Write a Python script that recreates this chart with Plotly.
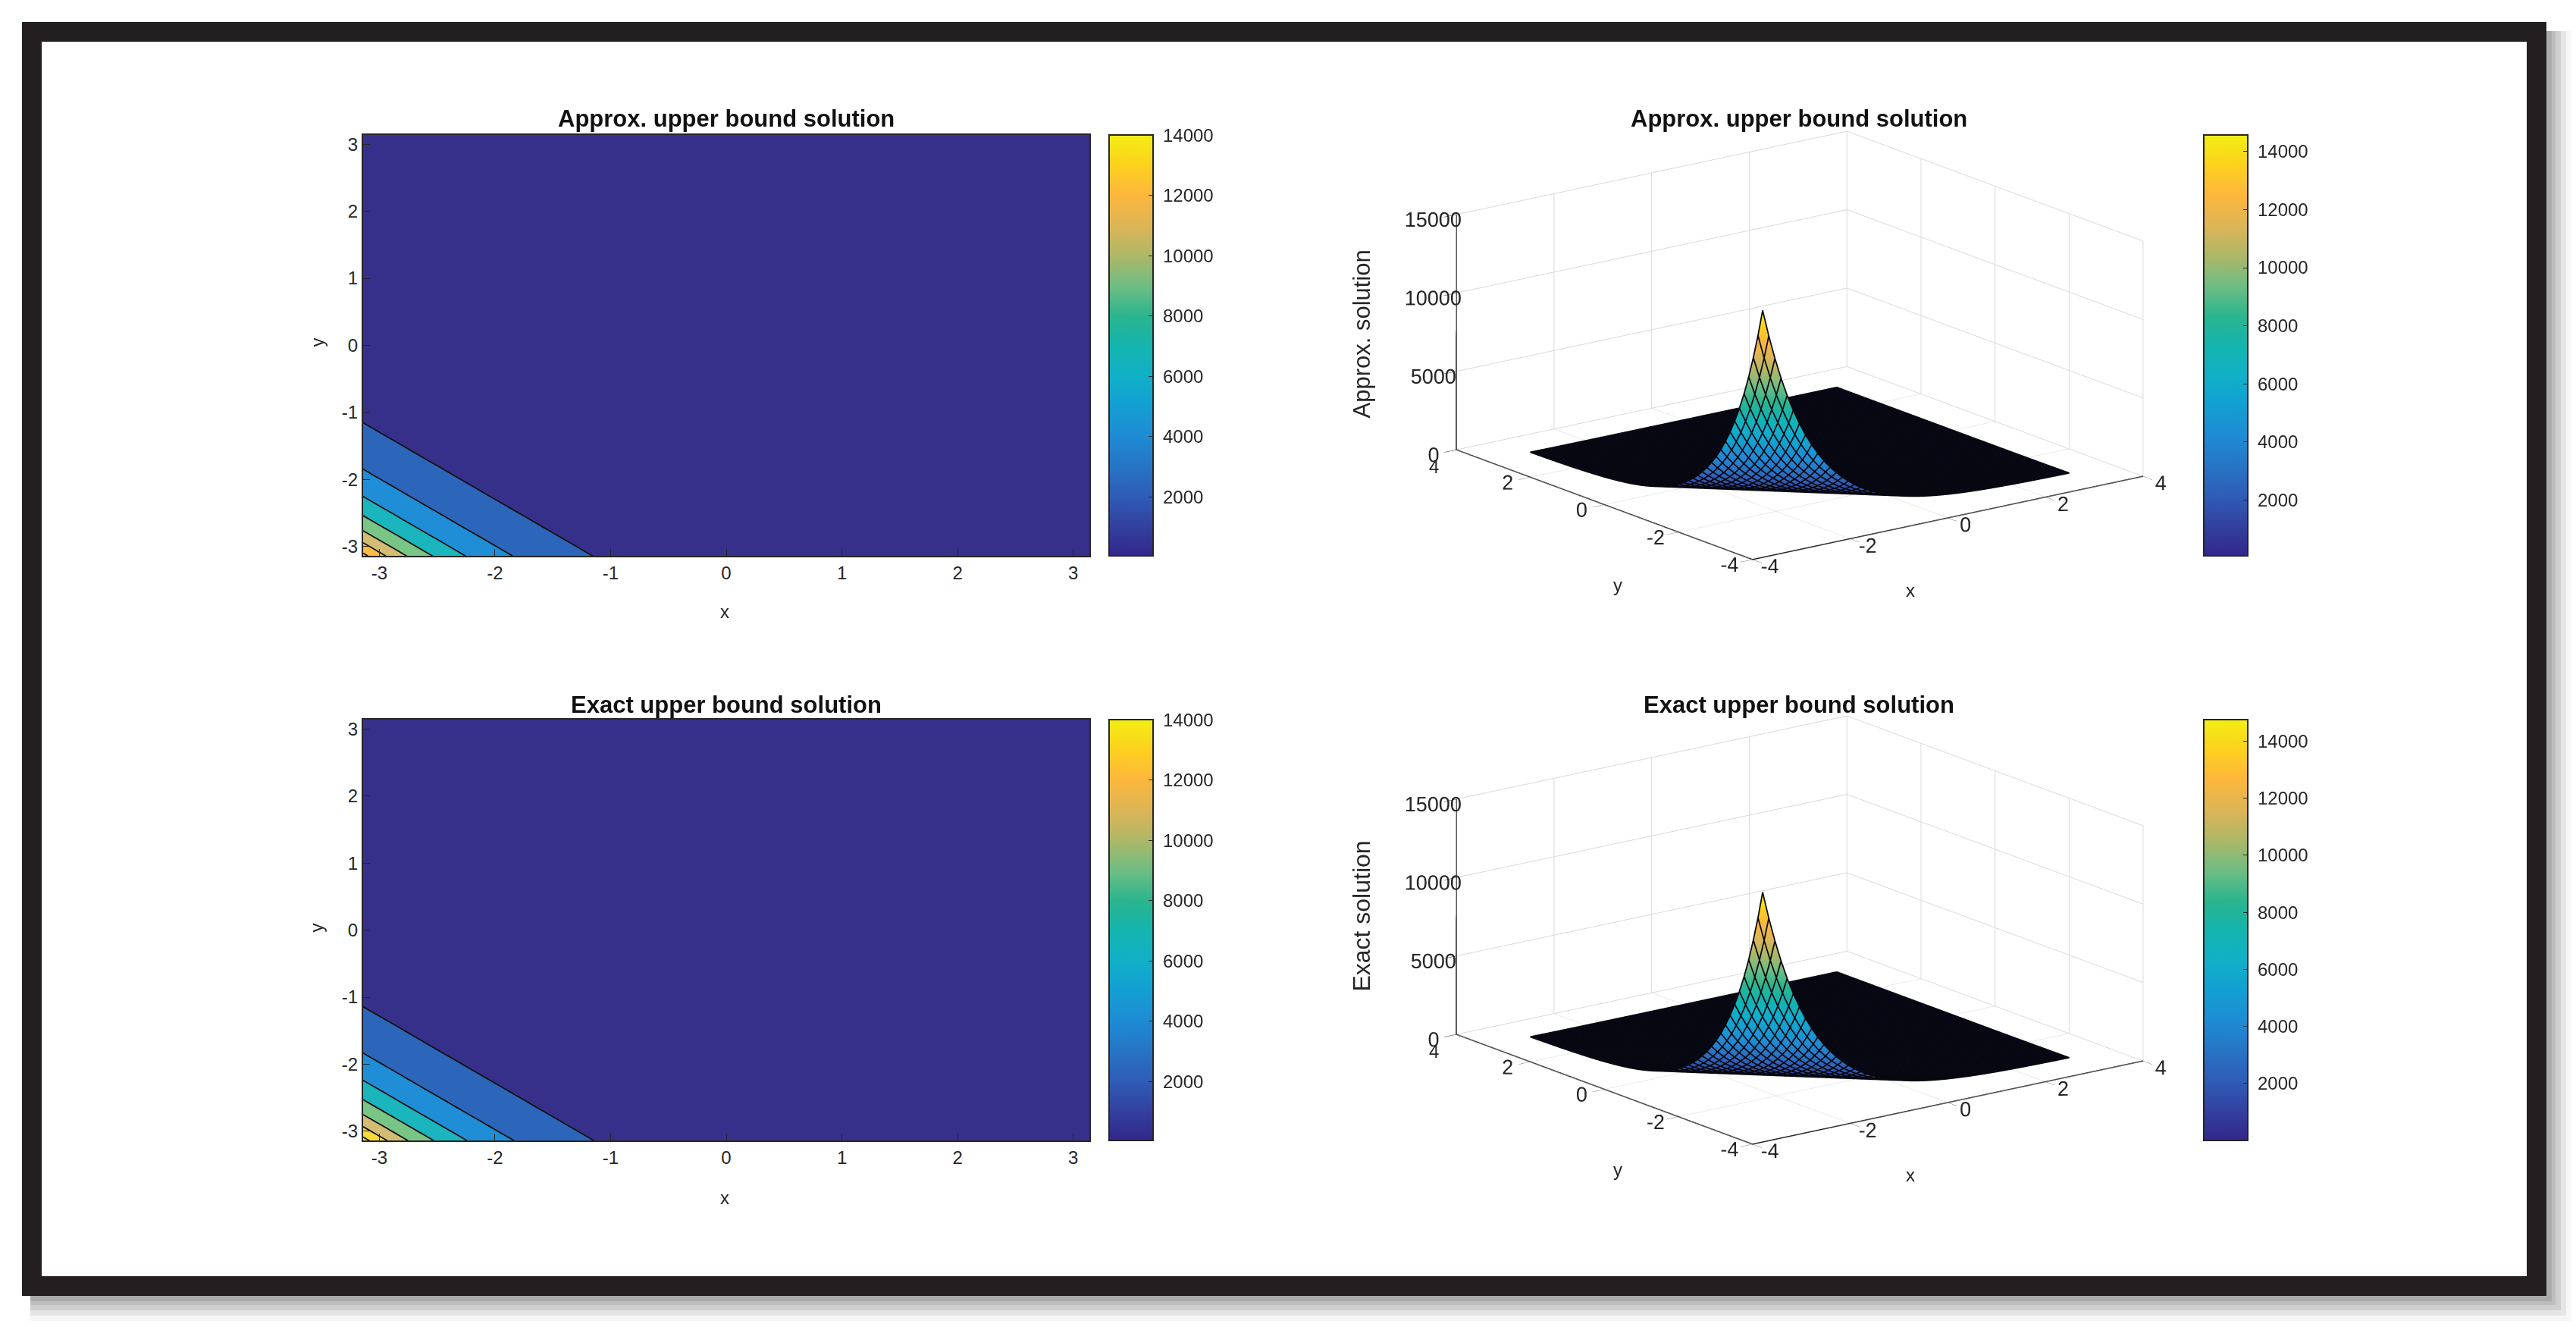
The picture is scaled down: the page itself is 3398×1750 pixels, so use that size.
import plotly.graph_objects as go

W = 3398
H = 1750

# grid of the solution, -pi to pi
grid_neg = [-3.14, -3.014, -2.888, -2.763, -2.638, -2.512, -2.386, -2.261, -2.135, -2.01, -1.884, -1.758, -1.633,
            -1.507, -1.382, -1.256, -1.13, -1.005, -0.879, -0.754, -0.628, -0.502, -0.377, -0.251, -0.126]
grid = grid_neg + [0.0] + [-v for v in reversed(grid_neg)]

# solution read along the diagonal, from the corner (-pi,-pi) to (pi,pi)
approx_head = [14566, 12850, 11330, 9990, 8810, 7770, 6850, 6040, 5330, 4700, 4145, 3655, 3225, 2845, 2510, 2210,
               1950, 1720, 1520, 1340, 1180, 1040, 920, 810, 715, 630, 555, 490, 432, 381, 336, 296, 261, 230, 203,
               179, 158, 139, 123, 108, 96, 84, 74, 65, 58, 51, 46, 40, 35, 31, 27]
exact_head = [14743, 13005, 11470, 10110, 8915, 7865, 6935, 6115, 5395, 4755, 4195, 3700, 3265, 2880, 2540, 2235,
              1975, 1740, 1540, 1355, 1195, 1055, 930, 820, 725, 640, 560, 495, 437, 386, 340, 300, 264, 233, 205,
              181, 160, 141, 124, 109, 97, 85, 75, 66, 59, 52, 46, 40, 35, 31, 27]
tail = [24, 21, 19, 16, 14, 13, 11, 10, 9, 8, 7, 6, 5, 5, 4, 4, 3, 3, 3, 2, 2, 2, 2, 1, 1, 1, 1, 1, 1, 1,
        1, 1, 1, 0, 0, 0, 0, 0, 0, 0, 0, 0, 0, 0, 0, 0, 0, 0, 0, 0]
approx_diag = approx_head + tail
exact_diag = exact_head + tail

parula = [[0, "#32278a"], [0.07, "#33409f"], [0.14, "#2f5cb5"], [0.28, "#1f8ad4"], [0.36, "#13a0d2"],
          [0.43, "#10b0c8"], [0.5, "#14b4ad"], [0.57, "#2bb58e"], [0.64, "#6dbd84"], [0.71, "#abb768"],
          [0.78, "#dab557"], [0.86, "#fdb73c"], [0.93, "#fcd21c"], [1, "#f3ee15"]]
# the low flat part of the surface looks black under its dense mesh
surface_scale = [[0, "#08081c"], [0.03, "#0c0c28"]] + parula[1:]

band_colors_top = ["#37308a", "#2c66bb", "#1f8ed6", "#1bb5bd", "#79c585", "#d3bd72", "#fbbc45", "#fbbc45"]
band_colors_bot = ["#37308a", "#2c66bb", "#1f8ed6", "#1bb5bd", "#79c585", "#d3bd72", "#f7d93a", "#f5e51e"]

levels = [2000, 14000, 2000]
ticks_xy = [-3, -2, -1, 0, 1, 2, 3]
labels_xy = ["-3", "-2", "-1", "0", "1", "2", "3"]
ticks_cb = [2000, 4000, 6000, 8000, 10000, 12000, 14000]
labels_cb = ["\u00a02000", "\u00a04000", "\u00a06000", "\u00a08000", "\u00a010000", "\u00a012000", "\u00a014000"]
ticks_3d = [-4, -2, 0, 2, 4]
labels_3d = ["-4", "-2", "0", "2", "4"]
labels_3d_y = ["-4", "-2", "0", "2", ""]  # the last one would sit on the z "0", see the annotations
ticks_z = [0, 5000, 10000, 15000]
labels_z = ["0", "5000", "10000", "15000"]

FONT = "Liberation Sans"
TXT = "#262626"


def px(x):
    return x / W


def py(y):
    return 1 - y / H


def matrix(diag):
    n = len(grid)
    return [[diag[i + j] for i in range(n)] for j in range(n)]


def step_scale(colors):
    n = len(colors) - 1
    return [[i / n, c] for i, c in enumerate(colors)]


def cbar(x, top):
    return dict(x=px(x), xanchor="left", y=py(top + 556), yanchor="bottom", len=556 / H, thickness=58,
                xpad=0, ypad=0, outlinecolor=TXT, outlinewidth=2, ticks="inside", ticklen=7, tickcolor=TXT,
                tickvals=ticks_cb, ticktext=labels_cb, tickfont=dict(family=FONT, size=24, color=TXT))


def mesh_lines(diag):
    # black wire lines of the surface, moved a bit towards the camera so the surface does not hide them
    n = len(grid)
    dx, dy, dz = -0.053, -0.07, 96
    xs, ys, zs = [], [], []
    for i in range(n):
        for j in range(n):
            xs.append(grid[i] + dx); ys.append(grid[j] + dy); zs.append(diag[i + j] + dz)
        xs.append(None); ys.append(None); zs.append(None)
        for j in range(n):
            xs.append(grid[j] + dx); ys.append(grid[i] + dy); zs.append(diag[i + j] + dz)
        xs.append(None); ys.append(None); zs.append(None)
    return xs, ys, zs


def colorbar_only(xa, ya, cmin, cmax, x, top):
    return go.Scatter(x=[None], y=[None], xaxis=xa, yaxis=ya, mode="markers", showlegend=False,
                      marker=dict(color=[0], cmin=cmin, cmax=cmax, colorscale=parula, showscale=True,
                                  colorbar=cbar(x, top)))


fig = go.Figure()

# left column, filled contours
rows = [(177, approx_diag, band_colors_top, "", "x", "y", 14000, 36),
        (949, exact_diag, band_colors_bot, "2", "x2", "y2", 14000, 36)]
for top, diag, colors, suf, xa, ya, cmax, cmin in rows:
    fig.add_trace(go.Contour(x=grid, y=grid, z=matrix(diag), xaxis=xa, yaxis=ya, showscale=False,
                             colorscale=step_scale(colors),
                             contours=dict(coloring="fill", start=levels[0], end=levels[1], size=levels[2]),
                             line=dict(color="#111111", width=1.8)))
    fig.add_trace(colorbar_only(xa, ya, cmin, cmax, 1463, top))
    axis = dict(range=[-3.14, 3.14], tickvals=ticks_xy, ticktext=labels_xy, ticks="inside", ticklen=9, tickcolor=TXT,
                mirror=True, showline=True, linecolor=TXT, linewidth=2, showgrid=False, zeroline=False,
                tickfont=dict(family=FONT, size=24, color=TXT))
    fig.layout["xaxis" + suf] = dict(axis, domain=[px(479), px(1437)], anchor=ya)
    fig.layout["yaxis" + suf] = dict(axis, domain=[py(top + 556), py(top)], anchor=xa)


# right column, surfaces
def axis3d(vals, text, rng):
    return dict(range=rng, tickvals=vals, ticktext=text, tickangle=0, title=dict(text=""), showbackground=False,
                showgrid=True, gridcolor="#d9d9d9", gridwidth=2, showline=True, linecolor="#222222", linewidth=3,
                zeroline=False, showspikes=False, ticks="outside", ticklen=20, tickcolor="#222222",
                tickfont=dict(family=FONT, size=18, color=TXT))


surf_rows = [(455, 177, approx_diag, 76, 14566, "scene", "x", "y"), (1227, 949, exact_diag, 0, 14743, "scene2", "x2", "y2")]
for mid, top, diag, cmin, cmax, scene, xa, ya in surf_rows:
    fig.add_trace(go.Surface(x=grid, y=grid, z=matrix(diag), scene=scene, cmin=cmin, cmax=cmax,
                             colorscale=surface_scale, showscale=False,
                             lighting=dict(ambient=1, diffuse=0, specular=0, roughness=1, fresnel=0)))
    fig.add_trace(colorbar_only(xa, ya, cmin, cmax, 2907, top))
    mx, my, mz = mesh_lines(diag)
    fig.add_trace(go.Scatter3d(x=mx, y=my, z=mz, scene=scene, mode="lines", showlegend=False,
                               line=dict(color="#07070f", width=3.5), connectgaps=False))
    # dark axis edges, as the gl axis line stays thin
    fig.add_trace(go.Scatter3d(x=[ticks_3d[-1], ticks_3d[0], ticks_3d[0], ticks_3d[0], None, ticks_3d[0], ticks_3d[0]],
                               y=[ticks_3d[0], ticks_3d[0], ticks_3d[-1], ticks_3d[-1], None, ticks_3d[-1], ticks_3d[-1]],
                               z=[0, 0, 0, 0, None, 0, ticks_z[-1]], scene=scene, mode="lines", showlegend=False,
                               line=dict(color="#222222", width=3)))
    fig.layout[scene] = dict(domain=dict(x=[px(2373.5 - 600), px(2373.5 + 600)], y=[py(mid + 370), py(mid - 370)]),
                             xaxis=axis3d(ticks_3d, labels_3d, [-4, 4]), yaxis=axis3d(ticks_3d, labels_3d_y, [-4, 4]),
                             zaxis=axis3d(ticks_z, labels_z, [0, 15000]),
                             aspectmode="manual", aspectratio=dict(x=1.75, y=1.75, z=0.875),
                             camera=dict(eye=dict(x=-2.32, y=-3.06, z=1.124), up=dict(x=0, y=0, z=1),
                                         center=dict(x=0, y=0, z=0), projection=dict(type="orthographic")))

# texts placed at their pixel positions
labels = [("Approx. upper bound solution", 958, 156, 31, True, 0), ("Approx. upper bound solution", 2373, 156, 31, True, 0),
          ("Exact upper bound solution", 958, 930, 31, True, 0), ("Exact upper bound solution", 2373, 930, 31, True, 0),
          ("x", 956, 806, 24, False, 0), ("y", 418, 451, 24, False, -90), ("x", 956, 1580, 24, False, 0),
          ("y", 418, 1224, 24, False, -90), ("y", 2134, 771, 24, False, 0), ("x", 2520, 778, 24, False, 0),
          ("y", 2134, 1543, 24, False, 0), ("x", 2520, 1550, 24, False, 0),
          ("4", 1891, 615, 24, False, 0), ("4", 1891, 1387, 24, False, 0),
          ("Approx. solution", 1796, 440, 31, False, -90), ("Exact solution", 1796, 1209, 32, False, -90)]
notes = []
for text, x, y, size, bold, angle in labels:
    notes.append(dict(text="<b>%s</b>" % text if bold else text, x=px(x), y=py(y), xref="paper", yref="paper",
                      xanchor="center", yanchor="middle", showarrow=False, textangle=angle,
                      font=dict(family=FONT, size=size, color="#111111" if bold else TXT)))

# picture frame with its soft shadow at lower right
shadow = [(33, "#f6f6f6"), (26, "#e5e5e5"), (19, "#cfcfcf"), (12, "#bdbdbd"), (7, "#a9aaa9")]
shapes = []
for off, col in shadow:
    shapes.append(dict(type="rect", xref="paper", yref="paper", x0=px(40), x1=px(3359 + off), y0=py(1710 + off),
                       y1=py(40), fillcolor=col, line=dict(width=0), layer="below"))
shapes.append(dict(type="rect", xref="paper", yref="paper", x0=px(29), x1=px(3359), y0=py(1710), y1=py(28),
                   fillcolor="#231f20", line=dict(width=0), layer="below"))
shapes.append(dict(type="rect", xref="paper", yref="paper", x0=px(55), x1=px(3333), y0=py(1684), y1=py(54),
                   fillcolor="#ffffff", line=dict(width=0), layer="below"))

fig.update_layout(width=W, height=H, margin=dict(l=0, r=0, t=0, b=0, pad=0), paper_bgcolor="white",
                  plot_bgcolor="white", showlegend=False, annotations=notes, shapes=shapes,
                  font=dict(family=FONT, color=TXT))

fig.write_html("out.html", config=dict(displayModeBar=False),
               post_script="document.body.style.margin='0';document.body.style.overflow='hidden';")
